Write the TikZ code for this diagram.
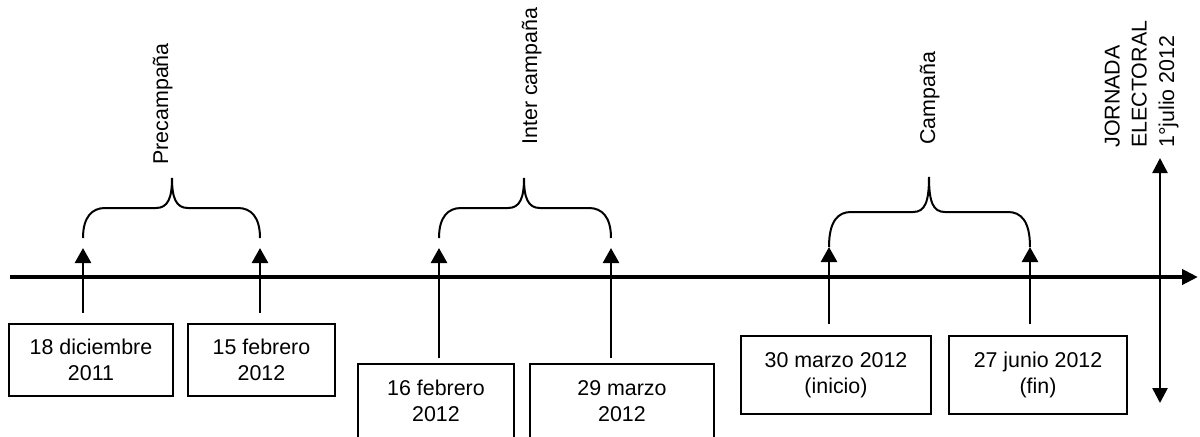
\documentclass[tikz,border=0pt]{standalone}
\usepackage{fontspec}
\setmainfont{Liberation Sans}
\usetikzlibrary{arrows.meta}
\newcommand\curlybrace[6]{% xl, xr, xc, yb, ym, yt
  \draw[curly] (#1,#4) .. controls (#1,#5+9) and (#1+9,#5) .. (#1+22,#5)
    -- (#3-16,#5) .. controls (#3-4,#5) and (#3,#5-10) .. (#3,#6)
    .. controls (#3,#5-10) and (#3+4,#5) .. (#3+16,#5)
    -- (#2-22,#5) .. controls (#2-9,#5) and (#2,#5+9) .. (#2,#4);}
\begin{document}
\begin{tikzpicture}[x=0.5pt,y=-0.5pt,
  datebox/.style={draw, line width=0.8pt, align=center, inner sep=0pt,
    font=\fontsize{10.7}{13.2}\selectfont},
  tick/.style={line width=1.3pt, -{Triangle[length=7.5pt,width=8pt]}},
  curly/.style={line width=1pt},
  phase/.style={rotate=90, anchor=base west, inner sep=0pt,
    font=\fontsize{10.7}{13}\selectfont}]
\useasboundingbox (0,0) rectangle (1200,436);

% boxes
\node[datebox, minimum width=82pt, minimum height=36pt] (b1) at (91,360) {18 diciembre\\2011};
\node[datebox, minimum width=73.5pt, minimum height=36pt] (b2) at (261.5,360) {15 febrero\\2012};
\node[datebox, minimum width=78pt, minimum height=37pt] (b3) at (436,401) {16 febrero\\2012};
\node[datebox, minimum width=92pt, minimum height=37pt] (b4) at (622,401) {29 marzo\\2012};
\node[datebox, minimum width=95pt, minimum height=39pt] (b5) at (836,375) {30 marzo 2012\\(inicio)};
\node[datebox, minimum width=89pt, minimum height=39pt] (b6) at (1038,375) {27 junio 2012\\(fin)};

% tick arrows
\coordinate (t1s) at (83,313);  \coordinate (t1e) at (83,248);
\coordinate (t2s) at (260,313); \coordinate (t2e) at (260,248);
\coordinate (t3s) at (439,358); \coordinate (t3e) at (439,248);
\coordinate (t4s) at (611,358); \coordinate (t4e) at (611,248);
\coordinate (t5s) at (829,324); \coordinate (t5e) at (829,247);
\coordinate (t6s) at (1030,324); \coordinate (t6e) at (1030,247);
\foreach \i in {1,...,6} {\draw[tick] (t\i s) -- (t\i e);}

% main axis
\coordinate (axL) at (10,277);
\coordinate (axR) at (1198,277);
\draw[line width=2pt, -{Triangle[length=8pt,width=7.5pt]}] (axL) -- (axR);

% vertical election-day axis
\coordinate (vT) at (1160,158);
\coordinate (vB) at (1160,403);
\draw[line width=1.3pt, {Triangle[length=7.5pt,width=7.5pt]}-{Triangle[length=7.5pt,width=7.5pt]}] (vT) -- (vB);

% braces
\curlybrace{83}{260}{172}{238}{208}{178}
\curlybrace{439}{611}{524}{238}{208}{178}
\curlybrace{829}{1030}{929}{247}{212}{177}

% phase labels
\node[phase] (p1) at (168,165) {Precampaña};
\node[phase] (p2) at (537,145) {Inter campaña};
\node[phase] (p3) at (935,145) {Campaña};

% election day label
\node[phase] (j1) at (1119.5,148) {JORNADA};
\node[phase] (j2) at (1146.5,148) {ELECTORAL};
\node[phase] (j3) at (1174,148) {1°julio 2012};
\end{tikzpicture}
\end{document}
